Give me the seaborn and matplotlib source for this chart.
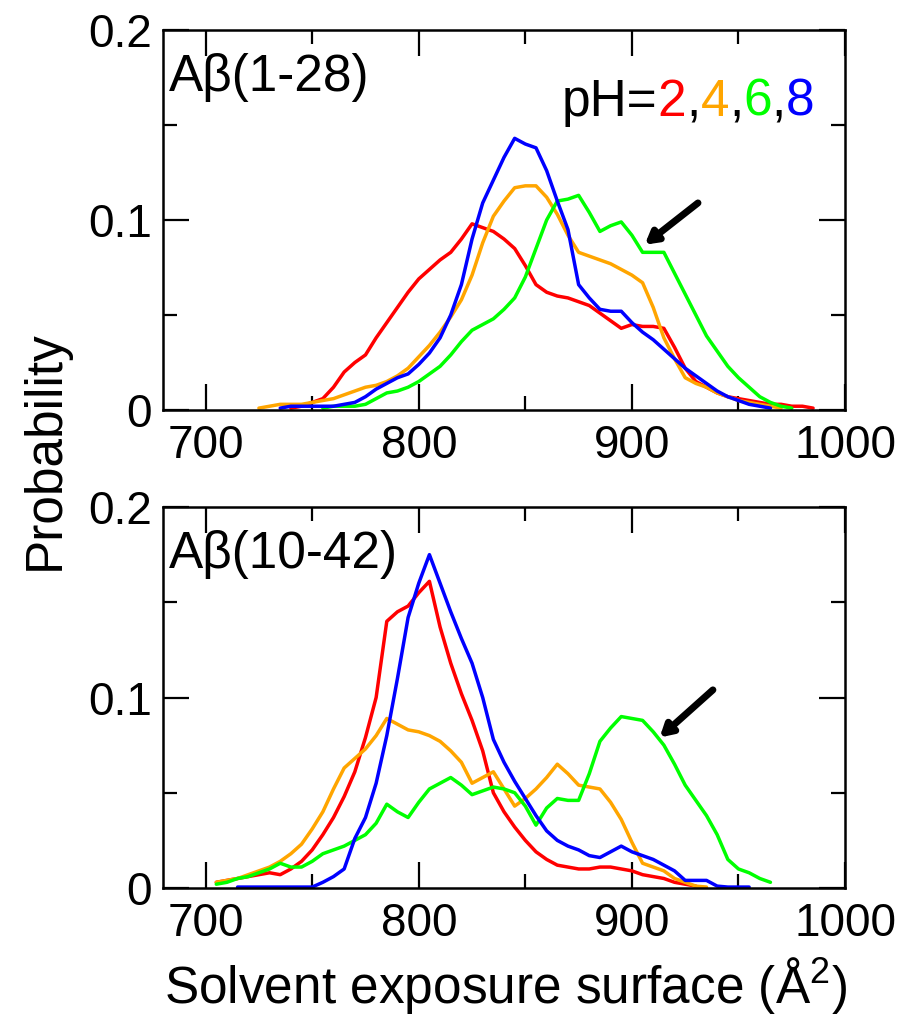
import numpy as np
import pandas as pd
import matplotlib
matplotlib.use("Agg")
import matplotlib.pyplot as plt
from matplotlib.ticker import MultipleLocator, FuncFormatter
import seaborn as sns

# ---------------- data ----------------
ph_levels = ["2", "4", "6", "8"]
ph_colors = ["#ff0000", "#ffa500", "#00ff00", "#0000ff"]

# Abeta(1-28)
top_red_x = list(range(740, 990, 5))
top_red_y = [0.001, 0.002, 0.004, 0.006, 0.012, 0.020, 0.025, 0.029, 0.038, 0.046,
             0.054, 0.062, 0.069, 0.074, 0.079, 0.083, 0.090, 0.098, 0.096, 0.094,
             0.090, 0.085, 0.076, 0.066, 0.062, 0.060, 0.059, 0.057, 0.055, 0.051,
             0.047, 0.043, 0.045, 0.044, 0.044, 0.043, 0.033, 0.022, 0.015, 0.012,
             0.009, 0.007, 0.006, 0.005, 0.004, 0.003, 0.003, 0.002, 0.002, 0.001]
top_orange_x = list(range(725, 975, 5))
top_orange_y = [0.001, 0.002, 0.003, 0.003, 0.003, 0.004, 0.005, 0.006, 0.008, 0.010,
                0.012, 0.013, 0.015, 0.018, 0.022, 0.028, 0.034, 0.041, 0.049, 0.058,
                0.071, 0.088, 0.102, 0.110, 0.117, 0.118, 0.118, 0.112, 0.103, 0.092,
                0.083, 0.081, 0.079, 0.077, 0.074, 0.071, 0.067, 0.054, 0.038, 0.027,
                0.017, 0.014, 0.012, 0.009, 0.007, 0.005, 0.004, 0.003, 0.002, 0.001]
top_green_x = list(range(755, 980, 5))
top_green_y = [0.001, 0.002, 0.002, 0.002, 0.003, 0.006, 0.009, 0.010, 0.012, 0.015,
               0.019, 0.023, 0.029, 0.036, 0.042, 0.045, 0.048, 0.053, 0.059, 0.070,
               0.085, 0.100, 0.110, 0.111, 0.113, 0.104, 0.094, 0.097, 0.099, 0.092,
               0.083, 0.083, 0.083, 0.072, 0.061, 0.050, 0.039, 0.031, 0.023, 0.017,
               0.012, 0.007, 0.004, 0.002, 0.001]
top_blue_x = list(range(735, 970, 5))
top_blue_y = [0.001, 0.002, 0.002, 0.002, 0.002, 0.002, 0.003, 0.004, 0.007, 0.011,
              0.014, 0.017, 0.019, 0.024, 0.030, 0.038, 0.050, 0.066, 0.090, 0.109,
              0.121, 0.133, 0.143, 0.140, 0.138, 0.126, 0.110, 0.095, 0.066, 0.059,
              0.053, 0.052, 0.052, 0.046, 0.041, 0.037, 0.032, 0.027, 0.022, 0.018,
              0.014, 0.010, 0.007, 0.005, 0.003, 0.002, 0.001]

# Abeta(10-42)
bot_red_x = list(range(705, 935, 5))
bot_red_y = [0.003, 0.004, 0.005, 0.006, 0.007, 0.008, 0.007, 0.010, 0.014, 0.020,
             0.028, 0.037, 0.048, 0.061, 0.079, 0.100, 0.140, 0.145, 0.148, 0.155,
             0.161, 0.137, 0.118, 0.102, 0.088, 0.072, 0.050, 0.040, 0.032, 0.025,
             0.019, 0.015, 0.012, 0.011, 0.010, 0.010, 0.011, 0.011, 0.010, 0.009,
             0.007, 0.006, 0.005, 0.003, 0.002, 0.001]
bot_orange_x = list(range(705, 940, 5))
bot_orange_y = [0.003, 0.004, 0.005, 0.007, 0.009, 0.011, 0.014, 0.018, 0.023, 0.031,
                0.040, 0.052, 0.063, 0.068, 0.073, 0.080, 0.089, 0.086, 0.083, 0.082,
                0.080, 0.077, 0.072, 0.066, 0.055, 0.058, 0.061, 0.052, 0.043, 0.047,
                0.052, 0.058, 0.065, 0.060, 0.054, 0.053, 0.052, 0.045, 0.036, 0.024,
                0.013, 0.011, 0.009, 0.005, 0.003, 0.001, 0.0005]
bot_green_x = list(range(705, 970, 5))
bot_green_y = [0.002, 0.003, 0.005, 0.006, 0.008, 0.010, 0.013, 0.011, 0.011, 0.014,
               0.018, 0.020, 0.022, 0.025, 0.028, 0.034, 0.044, 0.040, 0.037, 0.045,
               0.052, 0.055, 0.058, 0.054, 0.049, 0.051, 0.053, 0.052, 0.050, 0.043,
               0.033, 0.042, 0.047, 0.046, 0.046, 0.060, 0.077, 0.084, 0.090, 0.089,
               0.088, 0.082, 0.075, 0.065, 0.054, 0.046, 0.038, 0.028, 0.015, 0.010,
               0.008, 0.005, 0.003]
bot_blue_x = list(range(715, 960, 5))
bot_blue_y = [0.0005, 0.0005, 0.0005, 0.0005, 0.0005, 0.0005, 0.0005, 0.0005, 0.003, 0.006,
              0.010, 0.026, 0.037, 0.055, 0.080, 0.110, 0.142, 0.160, 0.175, 0.160,
              0.145, 0.131, 0.118, 0.100, 0.078, 0.066, 0.056, 0.047, 0.038, 0.030,
              0.025, 0.022, 0.020, 0.017, 0.016, 0.019, 0.022, 0.019, 0.017, 0.015,
              0.012, 0.009, 0.004, 0.004, 0.004, 0.001, 0.0005, 0.0005, 0.0005]

panel_titles = ["A\u03b2(1-28)", "A\u03b2(10-42)"]
x_ticks = [700, 800, 900, 1000]
y_ticks = [0, 0.1, 0.2]


def long_df(series):
    frames = []
    for ph, (xs, ys) in zip(ph_levels, series):
        frames.append(pd.DataFrame({"x": xs, "p": ys, "pH": ph}))
    return pd.concat(frames, ignore_index=True)


top_df = long_df([(top_red_x, top_red_y), (top_orange_x, top_orange_y),
                  (top_green_x, top_green_y), (top_blue_x, top_blue_y)])
bot_df = long_df([(bot_red_x, bot_red_y), (bot_orange_x, bot_orange_y),
                  (bot_green_x, bot_green_y), (bot_blue_x, bot_blue_y)])

# ---------------- style ----------------
sns.set_style("ticks")
plt.rcParams["font.family"] = ["Liberation Sans", "DejaVu Sans"]
plt.rcParams["mathtext.fontset"] = "custom"
plt.rcParams["mathtext.rm"] = "Liberation Sans"
plt.rcParams["text.color"] = "black"
plt.rcParams["axes.labelcolor"] = "black"
plt.rcParams["xtick.color"] = "black"
plt.rcParams["ytick.color"] = "black"
plt.rcParams["axes.linewidth"] = 1.8

TICK_FS = 33
LABEL_FS = 37
ANN_FS = 37

fig = plt.figure(figsize=(9.07, 10.22), dpi=100)
ax_top = fig.add_axes([0.1797, 0.5988, 0.752, 0.3718])
ax_bot = fig.add_axes([0.1797, 0.1311, 0.752, 0.3728])

palette = dict(zip(ph_levels, ph_colors))

for ax, df, title in [(ax_top, top_df, panel_titles[0]), (ax_bot, bot_df, panel_titles[1])]:
    sns.lineplot(data=df, x="x", y="p", hue="pH", palette=palette, ax=ax,
                 linewidth=2.5, legend=False, estimator=None, sort=True)
    ax.set_xlim(680, 1000)
    ax.set_ylim(0, 0.2)
    ax.set_xticks(x_ticks)
    ax.set_yticks(y_ticks)
    ax.xaxis.set_minor_locator(MultipleLocator(50))
    ax.yaxis.set_minor_locator(MultipleLocator(0.05))
    ax.yaxis.set_major_formatter(FuncFormatter(lambda v, pos: "0" if abs(v) < 1e-9 else f"{v:.1f}"))
    ax.tick_params(which="both", direction="in", top=True, right=True, width=1.6,
                   labelsize=TICK_FS, colors="black")
    ax.tick_params(which="major", length=19)
    ax.tick_params(which="minor", length=10)
    ax.tick_params(axis="x", which="major", pad=10)
    ax.tick_params(axis="y", which="major", pad=8)
    ax.set_xlabel("")
    ax.set_ylabel("")
    for s in ax.spines.values():
        s.set_color("black")
        s.set_linewidth(1.8)
    ax.text(0.008, 0.94, title, transform=ax.transAxes, ha="left", va="top",
            fontsize=ANN_FS, color="black")

# pH legend text, multicoloured
t = ax_top.text(0.585, 0.875, "pH=", transform=ax_top.transAxes, ha="left", va="top",
                fontsize=ANN_FS, color="black")
prev = t
pieces = []
for i, (ph, col) in enumerate(zip(ph_levels, ph_colors)):
    pieces.append((ph, col))
    if i < len(ph_levels) - 1:
        pieces.append((",", "black"))
for txt, col in pieces:
    prev = ax_top.annotate(txt, xy=(1, 0), xycoords=prev, ha="left", va="bottom",
                           fontsize=ANN_FS, color=col)

# arrows
arrow_kw = dict(arrowstyle="-|>,head_length=0.7,head_width=0.4", color="black",
                lw=5, shrinkA=0, shrinkB=0)
ax_top.annotate("", xy=(906, 0.087), xytext=(931, 0.109), arrowprops=arrow_kw)
ax_bot.annotate("", xy=(913, 0.079), xytext=(938, 0.104), arrowprops=arrow_kw)

fig.text(0.557, 0.006, "Solvent exposure surface (\u00c5$^2$)", ha="center", va="bottom",
         fontsize=LABEL_FS, color="black")
fig.text(0.05, 0.56, "Probability", rotation=90, ha="center", va="center",
         fontsize=LABEL_FS, color="black")

fig.savefig("out.png", dpi=100)
